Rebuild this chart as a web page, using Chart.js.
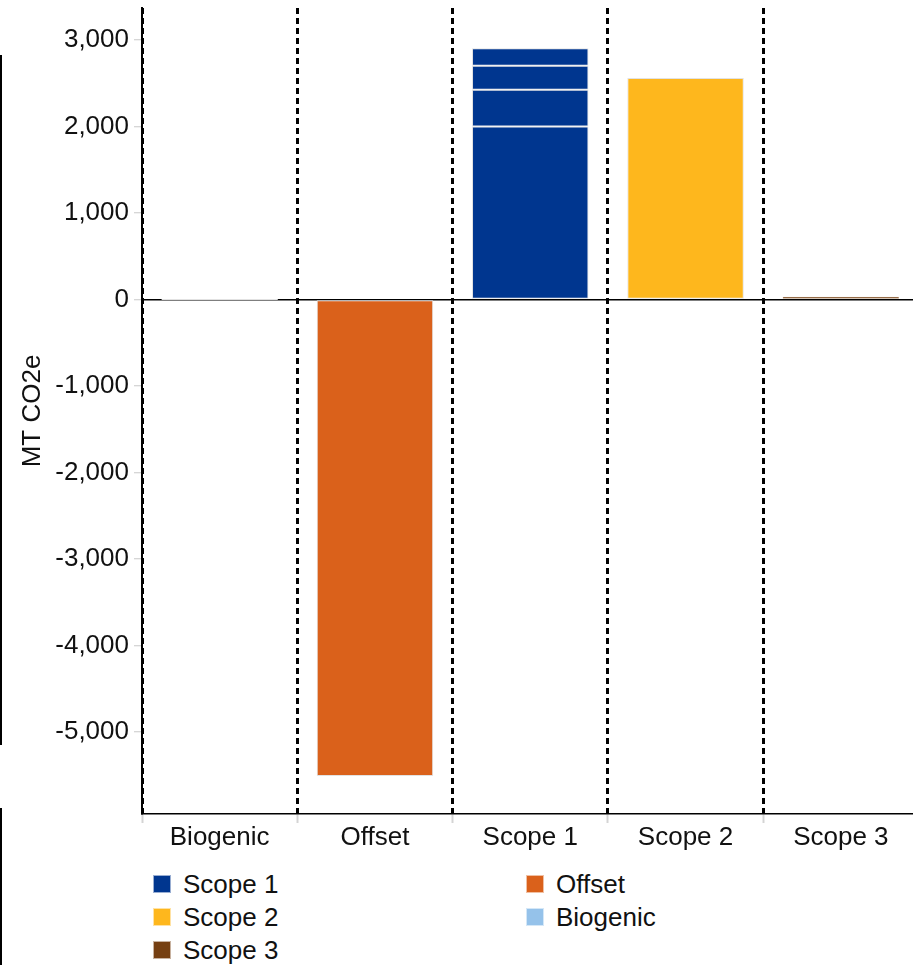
<!DOCTYPE html>
<html>
<head>
<meta charset="utf-8">
<script src="https://cdn.jsdelivr.net/npm/chart.js@4/dist/chart.umd.min.js"></script>
<style>
  html, body { margin: 0; padding: 0; background: #fff; overflow: hidden; }
  body { width: 913px; height: 965px; position: relative; font-family: "Liberation Sans", Arial, sans-serif; }
  #wrap { position: absolute; left: 0; top: 0; width: 920px; height: 860px; }
  .rule { position: absolute; left: 0; width: 2px; background: #000; }
  #legend { position: absolute; left: 0; top: 868px; width: 913px; height: 100px; }
  .item { position: absolute; height: 33px; line-height: 33px; font-size: 26px; color: #111; white-space: nowrap; }
  .swatch { position: absolute; left: 0; top: 7px; width: 18px; height: 18px; border: 0.5px solid rgba(255,255,255,0.6); box-sizing: border-box; }
  .label { position: absolute; left: 30px; top: 0; }
</style>
</head>
<body>
<div class="rule" style="top:55px;height:690px"></div>
<div class="rule" style="top:808px;height:160px"></div>
<div id="wrap"><canvas id="chart" width="920" height="860"></canvas></div>
<div id="legend"></div>
<script>
// Categories along the x axis
const categories = ['Biogenic', 'Offset', 'Scope 1', 'Scope 2', 'Scope 3'];

// Scope 1 emission sources, stacked in the Scope 1 column (MT CO2e)
const scope1Sources = [2000, 425, 278, 201];

// Other series, one value per category (null where the series has no bar)
const scope2Values   = [null, null, null, 2560, null];
const scope3Values   = [null, null, null, null, 30];
const offsetValues   = [null, -5510, null, null, null];
const biogenicValues = [0, null, null, null, null];

// Y axis tick labels
const yTickValues = [-5000, -4000, -3000, -2000, -1000, 0, 1000, 2000, 3000];

const colors = {
  'Scope 1': '#00368f',
  'Scope 2': '#feb71d',
  'Scope 3': '#764012',
  'Offset': '#da611b',
  'Biogenic': '#95c2ea'
};

const barStyle = {
  borderColor: '#e2e2e2',
  borderWidth: 1,
  borderSkipped: false,
  barPercentage: 0.75,
  categoryPercentage: 1.0
};

function columnOf(cat, value) {
  return categories.map(c => (c === cat ? value : null));
}

const datasets = [];
scope1Sources.forEach(v => {
  datasets.push(Object.assign({ label: 'Scope 1', data: columnOf('Scope 1', v), backgroundColor: colors['Scope 1'] }, barStyle));
});
datasets.push(Object.assign({ label: 'Scope 2', data: scope2Values, backgroundColor: colors['Scope 2'] }, barStyle));
datasets.push(Object.assign({}, barStyle, { label: 'Scope 3', data: scope3Values, backgroundColor: colors['Scope 3'], borderColor: '#cdb8a6', borderWidth: 0.5 }));
datasets.push(Object.assign({ label: 'Offset', data: offsetValues, backgroundColor: colors['Offset'] }, barStyle));
datasets.push(Object.assign({ label: 'Biogenic', data: biogenicValues, backgroundColor: colors['Biogenic'], minBarLength: 1 }, barStyle));

const font = { family: '"Liberation Sans", Arial, sans-serif', size: 26 };

const chart = new Chart(document.getElementById('chart'), {
  type: 'bar',
  data: { labels: categories, datasets },
  options: {
    responsive: false,
    animation: false,
    devicePixelRatio: 1,
    layout: { padding: { top: 8, right: 1.5, left: 0, bottom: 0 } },
    plugins: { legend: { display: false }, tooltip: { enabled: false } },
    scales: {
      x: {
        stacked: true,
        grid: {
          color: '#000',
          lineWidth: 3,
          tickColor: '#d4d4d4',
          tickWidth: 2,
          tickLength: 9,
          offset: true
        },
        border: { display: true, color: '#000', width: 1.5, dash: [6, 4] },
        ticks: { color: '#111', font, padding: -1 },
        afterFit(scale) { scale.height = 46; }
      },
      y: {
        stacked: true,
        min: -5950,
        max: 3370,
        afterBuildTicks(scale) { scale.ticks = yTickValues.map(v => ({ value: v })); },
        grid: {
          color: ctx => (ctx.tick && ctx.tick.value === 0 ? '#000' : 'rgba(0,0,0,0)'),
          lineWidth: 1.5,
          tickColor: '#c8c8c8',
          tickWidth: 1,
          tickLength: 8
        },
        border: { display: true, color: '#000', width: 2 },
        ticks: {
          color: '#111',
          font,
          padding: 5,
          callback: v => Number(v).toLocaleString('en-US')
        },
        title: {
          display: true,
          text: 'MT CO2e',
          color: '#111',
          font: { family: font.family, size: 26 },
          padding: { top: 17, bottom: 0 }
        },
        afterFit(scale) {
          scale.width = 142;
          scale.paddingTop = 0;
          scale.paddingBottom = 0;
        }
      }
    }
  }
});

// Two-column legend: scopes on the left, offset and biogenic on the right
const legendOrder = ['Scope 1', 'Scope 2', 'Scope 3', 'Offset', 'Biogenic'];
const legendEl = document.getElementById('legend');
legendOrder.forEach((name, idx) => {
  const col = idx < 3 ? 0 : 1;
  const row = idx < 3 ? idx : idx - 3;
  const item = document.createElement('div');
  item.className = 'item';
  item.style.left = (col === 0 ? 153 : 526) + 'px';
  item.style.top = (row * 33) + 'px';
  const sw = document.createElement('div');
  sw.className = 'swatch';
  sw.style.background = colors[name];
  const lb = document.createElement('span');
  lb.className = 'label';
  lb.textContent = name;
  item.appendChild(sw);
  item.appendChild(lb);
  legendEl.appendChild(item);
});
</script>
</body>
</html>
